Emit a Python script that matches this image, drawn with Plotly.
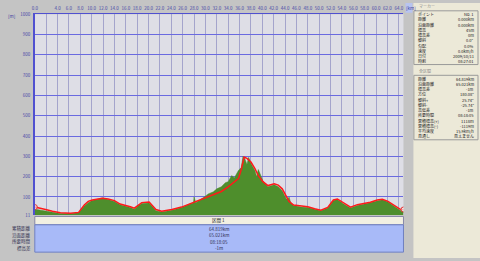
import plotly.graph_objects as go

# ---------------- data ----------------
km_red = [0, 1.05, 1.9, 3.1, 4.5, 6.3, 7.7, 8.7, 9.4, 10.1, 11.9, 12.9, 14.0, 15.0, 16.1, 16.8,
          17.5, 18.2, 18.8, 20.1, 20.6, 21.3, 22.3, 24.1, 25.8, 28.1, 29.8, 31.4, 32.8, 34.0,
          35.1, 35.8, 36.3, 36.8, 37.3, 38.0, 38.7, 39.3, 40.1, 41.0, 42.1, 42.8, 43.5, 44.2,
          44.7, 45.5, 46.8, 48.0, 49.2, 50.3, 51.5, 52.5, 53.2, 54.3, 55.5, 56.7, 57.8, 59.0,
          60.2, 61.1, 62.1, 63.4, 64.2, 64.819]
elev_red = [50, 45, 38, 30, 22, 20, 24, 60, 78, 85, 93, 90, 82, 65, 58, 52,
            45, 62, 72, 75, 60, 38, 30, 38, 50, 75, 92, 110, 127, 150,
            175, 190, 235, 296, 290, 272, 240, 205, 175, 156, 165, 158, 140, 100,
            78, 60, 55, 52, 42, 35, 48, 85, 90, 70, 50, 62, 66, 74,
            85, 88, 78, 55, 40, 38]

km_green = [0, 1, 2, 3, 4.5, 6.3, 7.7, 8.7, 9.4, 10.1, 11.0, 11.9, 12.9, 14.0, 15.0, 16.1,
            16.8, 17.5, 18.2, 18.8, 20.1, 20.6, 21.3, 22.3, 24.1, 25.8, 27.5, 27.9, 28.0, 28.3,
            29.8, 30.5, 31.4, 32.0, 32.8, 33.5, 34.0, 34.6, 35.1, 35.8, 36.3, 36.6, 36.9, 37.3,
            37.6, 38.0, 38.7, 39.0, 39.3, 40.1, 41.0, 42.1, 42.8, 43.5, 44.2, 44.6, 44.7, 45.0,
            45.5, 46.8, 48.0, 49.2, 50.3, 51.5, 52.5, 53.2, 54.3, 55.5, 56.7, 57.8, 59.0, 60.2,
            61.1, 62.1, 63.4, 64.2, 64.819]
elev_green = [40, 35, 30, 22, 18, 18, 22, 55, 72, 82, 88, 95, 88, 78, 62, 55,
              48, 40, 58, 68, 70, 55, 32, 26, 35, 48, 70, 72, 100, 72,
              100, 115, 125, 140, 150, 170, 175, 205, 195, 230, 245, 300, 290, 260,
              295, 265, 230, 200, 235, 180, 150, 160, 150, 130, 90, 92, 100, 70,
              58, 50, 48, 38, 32, 45, 82, 88, 65, 45, 58, 64, 72, 82,
              86, 75, 50, 35, 30]

x_ticks = [2 * i for i in range(33)]
x_ticktext = ["%.1f" % v for v in x_ticks]
x_ticktext[1] = ""
y_ticks = [11, 100, 200, 300, 400, 500, 600, 700, 800, 900, 1000]
y_ticktext = [str(v) for v in y_ticks]

marker_labels = ["ポイント", "距離", "沿面距離", "標高", "標高差", "傾斜", "勾配", "速度", "日付", "時刻"]
marker_values = ["No. 1", "0.000km", "0.000km", "45m", "0m", "0.0°", "0.0%", "0.0km/h", "2009/10/11", "08:27:01"]
all_labels = ["距離", "沿面距離", "標高差", "方位", "傾斜+", "傾斜-", "高低差", "所要時間",
              "累積標高(+)", "累積標高(-)", "平均速度", "見通し"]
all_values = ["64.819km", "65.021km", "-1m", "180.08°", "25.74°", "-25.74°", "-1m", "08:18:05",
              "1118m", "-1119m", "15.9km/h", "見えません"]
table_labels = ["累積距離", "沿面距離", "所要時間", "標高差"]
table_values = ["64.819km", "65.021km", "08:18:05", "-1m"]
table_header = "区間 1"

# ---------------- layout helpers ----------------
W, H = 480, 261
FONT = "Noto Sans CJK JP, DejaVu Sans, sans-serif"


def px(x):
    return x / W


def py(y):
    return 1 - y / H


fig = go.Figure()
fig.add_trace(go.Scatter(x=km_green, y=elev_green, mode="lines", fill="tozeroy",
                         line=dict(color="#4A8A2A", width=0.5), fillcolor="#4E8E2C",
                         hoverinfo="skip", showlegend=False))
fig.add_trace(go.Scatter(x=km_red, y=elev_red, mode="lines",
                         line=dict(color="#FF1A1A", width=1.5),
                         hoverinfo="skip", showlegend=False))
fig.add_trace(go.Scatter(x=[km_red[0], km_red[-1]], y=[elev_red[0], elev_red[-1]], mode="markers",
                         marker=dict(size=5, color="rgba(255,255,255,0.6)",
                                     line=dict(color="#E03030", width=1)),
                         hoverinfo="skip", showlegend=False))

shapes = []
annos = []
PF = 4  # panel font size

# right panel
shapes.append(dict(type="rect", xref="paper", yref="paper", x0=px(413), x1=px(480), y0=0, y1=1,
                   fillcolor="#ECE9D8", line=dict(width=0), layer="below"))
shapes.append(dict(type="rect", xref="paper", yref="paper", x0=px(405), x1=px(412), y0=py(10), y1=py(0),
                   fillcolor="#B8C4F0", line=dict(width=0), layer="below"))
shapes.append(dict(type="rect", xref="paper", yref="paper", x0=px(413.5), x1=px(478), y0=py(63), y1=py(8),
                   fillcolor="rgba(0,0,0,0)", line=dict(color="#9A9A9A", width=1)))
shapes.append(dict(type="rect", xref="paper", yref="paper", x0=px(413.5), x1=px(478), y0=py(140), y1=py(74),
                   fillcolor="rgba(0,0,0,0)", line=dict(color="#9A9A9A", width=1)))
annos.append(dict(x=px(417), y=py(3.5), text="マーカー", xanchor="left", yanchor="middle",
                  font=dict(size=PF, color="#8A8A8A")))
annos.append(dict(x=px(417), y=py(69.5), text="全区間", xanchor="left", yanchor="middle",
                  font=dict(size=PF, color="#8A8A8A")))
for i, (l, v) in enumerate(zip(marker_labels, marker_values)):
    yy = 11.5 + i * 5.35
    annos.append(dict(x=px(416), y=py(yy), text=l, xanchor="left", yanchor="middle",
                      font=dict(size=PF, color="#202020")))
    annos.append(dict(x=px(476), y=py(yy), text=v, xanchor="right", yanchor="middle",
                      font=dict(size=PF, color="#202020")))
for i, (l, v) in enumerate(zip(all_labels, all_values)):
    yy = 77.5 + i * 5.35
    annos.append(dict(x=px(416), y=py(yy), text=l, xanchor="left", yanchor="middle",
                      font=dict(size=PF, color="#202020")))
    annos.append(dict(x=px(476), y=py(yy), text=v, xanchor="right", yanchor="middle",
                      font=dict(size=PF, color="#202020")))

# bottom table
shapes.append(dict(type="rect", xref="paper", yref="paper", x0=px(32), x1=px(403), y0=py(227), y1=py(218.5),
                   fillcolor="#F2F0E2", line=dict(color="#8888A8", width=1)))
shapes.append(dict(type="rect", xref="paper", yref="paper", x0=px(32), x1=px(403), y0=py(255), y1=py(227),
                   fillcolor="#A8BAF8", line=dict(color="#7080C0", width=1)))
annos.append(dict(x=px(217), y=py(222.7), text=table_header, xanchor="center", yanchor="middle",
                  font=dict(size=4.5, color="#202020")))
for i, (l, v) in enumerate(zip(table_labels, table_values)):
    yy = 231 + i * 6.7
    annos.append(dict(x=px(30), y=py(yy), text=l, xanchor="right", yanchor="middle",
                      font=dict(size=4.5, color="#303050")))
    annos.append(dict(x=px(217), y=py(yy), text=v, xanchor="center", yanchor="middle",
                      font=dict(size=4.5, color="#303050")))

# axis unit labels
annos.append(dict(x=px(3), y=py(13), text="[m]", xanchor="left", yanchor="middle",
                  font=dict(size=4.5, color="#4040A0")))
annos.append(dict(x=px(403.5), y=py(5), text="[km]", xanchor="left", yanchor="middle",
                  font=dict(size=4.5, color="#4040A0")))

for a in annos:
    a.update(xref="paper", yref="paper", showarrow=False)

fig.update_layout(
    width=W, height=H,
    margin=dict(l=0, r=0, t=0, b=0),
    paper_bgcolor="#C4C4C4",
    plot_bgcolor="#DEDEE6",
    font=dict(family=FONT, size=5, color="#4040A0"),
    shapes=shapes,
    annotations=annos,
    xaxis=dict(domain=[px(32), px(403)], range=[0, 64.819], side="top",
               tickvals=x_ticks, ticktext=x_ticktext, tickfont=dict(size=4.5, color="#4848A8"),
               tickangle=0,
               showgrid=True, gridcolor="#A4A4CC", gridwidth=1, zeroline=False,
               showline=True, linecolor="#5050D0", linewidth=1, mirror=False,
               ticks="", ticklabelstandoff=1, fixedrange=True),
    yaxis=dict(domain=[py(217), py(11.5)], range=[11, 1000],
               tickvals=y_ticks, ticktext=y_ticktext, tickfont=dict(size=4.5, color="#4848A8"),
               showgrid=True, gridcolor="#6A6AE0", gridwidth=1, zeroline=False,
               showline=True, linecolor="#5050D0", linewidth=1.5, mirror=False,
               ticks="", ticklabelstandoff=2, fixedrange=True),
)

fig.write_html("out.html")
